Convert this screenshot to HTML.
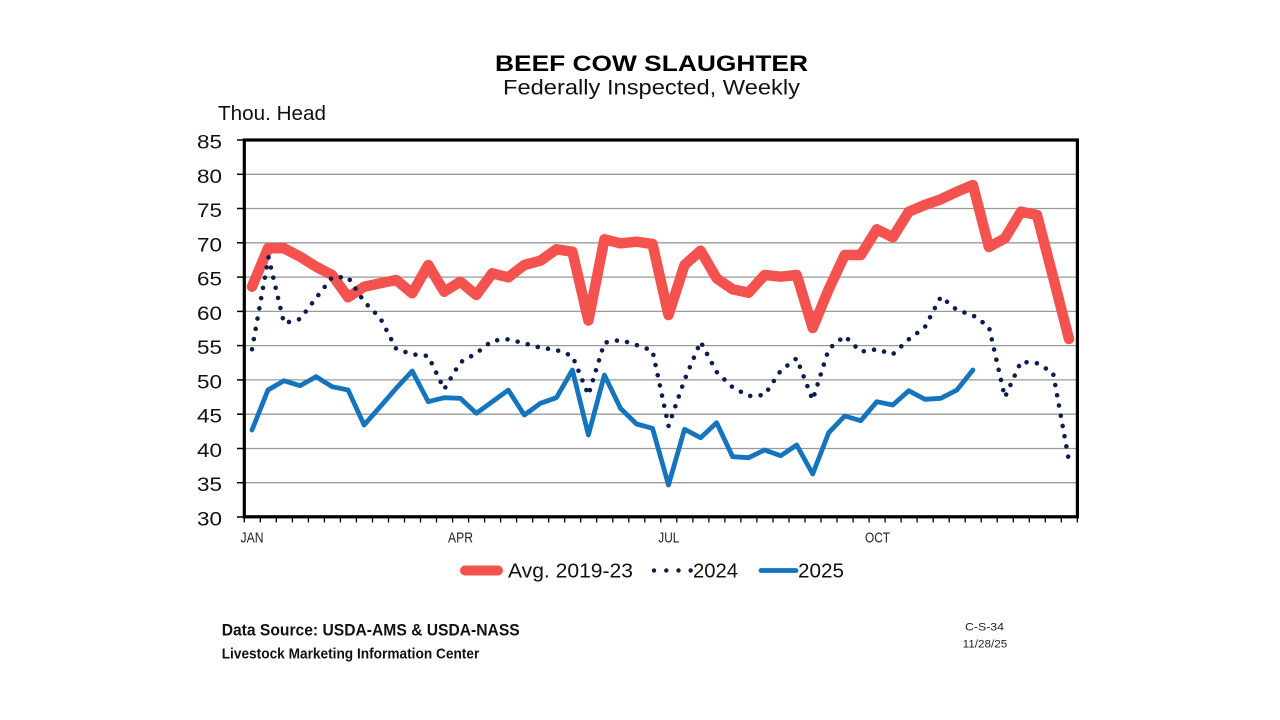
<!DOCTYPE html>
<html>
<head>
<meta charset="utf-8">
<style>
  html,body{margin:0;padding:0;background:#fff;}
  svg{display:block;}
  text{font-family:"Liberation Sans", Arial, sans-serif;}
</style>
</head>
<body>
<svg width="1280" height="720" viewBox="0 0 1280 720" xmlns="http://www.w3.org/2000/svg">
  <rect x="0" y="0" width="1280" height="720" fill="#ffffff"/>

  <!-- Titles -->
  <text x="495" y="71" font-size="22.5" font-weight="bold" fill="#000" textLength="313" lengthAdjust="spacingAndGlyphs">BEEF COW SLAUGHTER</text>
  <text x="503" y="94.3" font-size="21" fill="#111" textLength="297" lengthAdjust="spacingAndGlyphs">Federally Inspected, Weekly</text>
  <text x="218" y="120" font-size="20" fill="#111" textLength="108" lengthAdjust="spacingAndGlyphs">Thou. Head</text>

  <!-- Gridlines -->
  <g stroke="#9a9a9a" stroke-width="1.3">
    <line x1="244" y1="482.7" x2="1077" y2="482.7"/>
    <line x1="244" y1="448.5" x2="1077" y2="448.5"/>
    <line x1="244" y1="414.2" x2="1077" y2="414.2"/>
    <line x1="244" y1="379.9" x2="1077" y2="379.9"/>
    <line x1="244" y1="345.6" x2="1077" y2="345.6"/>
    <line x1="244" y1="311.4" x2="1077" y2="311.4"/>
    <line x1="244" y1="277.1" x2="1077" y2="277.1"/>
    <line x1="244" y1="242.8" x2="1077" y2="242.8"/>
    <line x1="244" y1="208.5" x2="1077" y2="208.5"/>
    <line x1="244" y1="174.3" x2="1077" y2="174.3"/>
  </g>

  <!-- Y labels -->
  <g font-size="19.5" fill="#111" text-anchor="end">
    <text x="222" y="148.5" textLength="25" lengthAdjust="spacingAndGlyphs">85</text>
    <text x="222" y="182.8" textLength="25" lengthAdjust="spacingAndGlyphs">80</text>
    <text x="222" y="217" textLength="25" lengthAdjust="spacingAndGlyphs">75</text>
    <text x="222" y="251.3" textLength="25" lengthAdjust="spacingAndGlyphs">70</text>
    <text x="222" y="285.6" textLength="25" lengthAdjust="spacingAndGlyphs">65</text>
    <text x="222" y="319.9" textLength="25" lengthAdjust="spacingAndGlyphs">60</text>
    <text x="222" y="354.1" textLength="25" lengthAdjust="spacingAndGlyphs">55</text>
    <text x="222" y="388.4" textLength="25" lengthAdjust="spacingAndGlyphs">50</text>
    <text x="222" y="422.7" textLength="25" lengthAdjust="spacingAndGlyphs">45</text>
    <text x="222" y="457" textLength="25" lengthAdjust="spacingAndGlyphs">40</text>
    <text x="222" y="491.2" textLength="25" lengthAdjust="spacingAndGlyphs">35</text>
    <text x="222" y="525.5" textLength="25" lengthAdjust="spacingAndGlyphs">30</text>
  </g>

  <!-- Y ticks -->
  <g stroke="#000" stroke-width="1.5">
    <line x1="237" y1="140" x2="244" y2="140"/>
    <line x1="237" y1="174.3" x2="244" y2="174.3"/>
    <line x1="237" y1="208.5" x2="244" y2="208.5"/>
    <line x1="237" y1="242.8" x2="244" y2="242.8"/>
    <line x1="237" y1="277.1" x2="244" y2="277.1"/>
    <line x1="237" y1="311.4" x2="244" y2="311.4"/>
    <line x1="237" y1="345.6" x2="244" y2="345.6"/>
    <line x1="237" y1="379.9" x2="244" y2="379.9"/>
    <line x1="237" y1="414.2" x2="244" y2="414.2"/>
    <line x1="237" y1="448.5" x2="244" y2="448.5"/>
    <line x1="237" y1="482.7" x2="244" y2="482.7"/>
    <line x1="237" y1="517" x2="244" y2="517"/>
  </g>

  <!-- X ticks -->
  <path stroke="#000" stroke-width="1.3" fill="none" d="
    M244.3 517V522.5 M260.3 517V522.5 M276.3 517V522.5 M292.4 517V522.5 M308.4 517V522.5 M324.4 517V522.5 M340.4 517V522.5 M356.4 517V522.5
    M372.5 517V522.5 M388.5 517V522.5 M404.5 517V522.5 M420.5 517V522.5 M436.5 517V522.5 M452.6 517V522.5 M468.6 517V522.5 M484.6 517V522.5
    M500.6 517V522.5 M516.6 517V522.5 M532.7 517V522.5 M548.7 517V522.5 M564.7 517V522.5 M580.7 517V522.5 M596.7 517V522.5 M612.8 517V522.5
    M628.8 517V522.5 M644.8 517V522.5 M660.8 517V522.5 M676.8 517V522.5 M692.9 517V522.5 M708.9 517V522.5 M724.9 517V522.5 M740.9 517V522.5
    M756.9 517V522.5 M773.0 517V522.5 M789.0 517V522.5 M805.0 517V522.5 M821.0 517V522.5 M837.0 517V522.5 M853.1 517V522.5 M869.1 517V522.5
    M885.1 517V522.5 M901.1 517V522.5 M917.1 517V522.5 M933.2 517V522.5 M949.2 517V522.5 M965.2 517V522.5 M981.2 517V522.5 M997.2 517V522.5
    M1013.3 517V522.5 M1029.3 517V522.5 M1045.3 517V522.5 M1061.3 517V522.5 M1077.3 517V522.5"/>

  <!-- X labels -->
  <g font-size="15" fill="#222">
    <text x="240.5" y="542.7" textLength="23" lengthAdjust="spacingAndGlyphs">JAN</text>
    <text x="448" y="542.7" textLength="25" lengthAdjust="spacingAndGlyphs">APR</text>
    <text x="658.3" y="542.7" textLength="21" lengthAdjust="spacingAndGlyphs">JUL</text>
    <text x="865" y="542.7" textLength="25" lengthAdjust="spacingAndGlyphs">OCT</text>
  </g>

  <!-- Avg 2019-23 -->
  <polyline fill="none" stroke="#f4524f" stroke-width="10.5" stroke-linejoin="round" stroke-linecap="round"
    points="252.0,286.7 268.0,248.3 284.0,248.3 300.1,256.7 316.1,266.7 332.1,275 348.1,297.3 364.1,286.7 380.2,283.3 396.2,280 412.2,293.3 428.2,265 444.2,291.7 460.3,281.7 476.3,295 492.3,273.3 508.3,277.3 524.3,265 540.4,260.7 556.4,249.3 572.4,251.7 588.4,320.5 604.4,239.3 620.5,243.3 636.5,241.7 652.5,244 668.5,315 684.5,265 700.6,250.7 716.6,278.3 732.6,289.3 748.6,292.7 764.6,275 780.7,276.7 796.7,275 812.7,328 828.7,289.3 844.7,255 860.8,255 876.8,229.3 892.8,237.3 908.8,211.7 924.8,205 940.9,199.3 956.9,191.7 972.9,185 988.9,247 1004.9,238.3 1021.0,211.7 1037.0,215 1053.0,276.7 1069.0,339"/>

  <!-- 2024 dotted -->
  <polyline fill="none" stroke="#0b1d50" stroke-width="4.6" stroke-linejoin="round" stroke-linecap="round" stroke-dasharray="0 10.4"
    points="252.0,349.3 268.5,257.3 284.0,323.3 300.1,319 316.1,298 332.1,277.3 348.1,277.3 364.1,301.7 380.2,318 396.2,349 412.2,354.3 428.2,356 444.2,389.3 460.3,362.3 476.3,353.3 492.3,340.7 508.3,339.3 524.3,343.3 540.4,347.7 556.4,350 572.4,356 588.4,395 604.4,342.7 620.5,340 636.5,345 652.5,350.7 668.5,426 684.5,380 700.6,341.7 716.6,372 732.6,387.3 748.6,396 764.6,395 780.7,370.7 796.7,358.3 812.7,400 828.7,349 844.7,336 860.8,351.7 876.8,349.3 892.8,354.3 908.8,339.3 924.8,327.3 940.9,296.7 956.9,310 972.9,315.3 988.9,326.7 1004.9,397.3 1021.0,361.7 1037.0,363.3 1053.0,372.7 1069.0,461"/>

  <!-- 2025 -->
  <polyline fill="none" stroke="#1474bd" stroke-width="4.8" stroke-linejoin="round" stroke-linecap="round"
    points="252.0,430 268.0,390 284.0,380.7 300.1,385.7 316.1,376.7 332.1,386.7 348.1,390 364.1,425 380.2,406.7 396.2,388.3 412.2,371 428.2,401.7 444.2,397.7 460.3,398.3 476.3,413.3 492.3,401.7 508.3,390 524.3,415 540.4,403.3 556.4,397.7 572.4,370 588.4,435 604.4,375 620.5,408.3 636.5,424 652.5,428.3 668.5,485 684.5,429.3 700.6,437.7 716.6,422.7 732.6,456.7 748.6,457.7 764.6,450 780.7,455.7 796.7,445 812.7,474 828.7,432.7 844.7,416 860.8,420.7 876.8,401.7 892.8,405 908.8,390.7 924.8,399.3 940.9,398.3 956.9,390 972.9,370"/>

  <!-- Plot border -->
  <rect x="244.3" y="140" width="833.1" height="376.8" fill="none" stroke="#000" stroke-width="3.2"/>

  <!-- Legend -->
  <line x1="465" y1="570.5" x2="498" y2="570.5" stroke="#f4524f" stroke-width="10" stroke-linecap="round"/>
  <text x="508" y="577.3" font-size="20" fill="#111" textLength="125" lengthAdjust="spacingAndGlyphs">Avg. 2019-23</text>
  <g fill="#0b1d50">
    <circle cx="654" cy="570.5" r="2.2"/>
    <circle cx="666.3" cy="570.5" r="2.2"/>
    <circle cx="678.5" cy="570.5" r="2.2"/>
    <circle cx="690.7" cy="570.5" r="2.2"/>
  </g>
  <text x="693" y="577.3" font-size="20" fill="#111" textLength="45" lengthAdjust="spacingAndGlyphs">2024</text>
  <line x1="761" y1="570.5" x2="796" y2="570.5" stroke="#1474bd" stroke-width="4.8" stroke-linecap="round"/>
  <text x="798" y="577.3" font-size="20" fill="#111" textLength="46" lengthAdjust="spacingAndGlyphs">2025</text>

  <!-- Footer -->
  <text x="221.7" y="635.7" font-size="17" font-weight="bold" fill="#111" textLength="298" lengthAdjust="spacingAndGlyphs">Data Source:  USDA-AMS &amp; USDA-NASS</text>
  <text x="221.7" y="658.3" font-size="15" font-weight="bold" fill="#111" textLength="257.6" lengthAdjust="spacingAndGlyphs">Livestock Marketing Information Center</text>
  <text x="965" y="630.7" font-size="11" fill="#222" textLength="39" lengthAdjust="spacingAndGlyphs">C-S-34</text>
  <text x="962.7" y="647.3" font-size="11" fill="#222" textLength="44.6" lengthAdjust="spacingAndGlyphs">11/28/25</text>
</svg>
</body>
</html>
